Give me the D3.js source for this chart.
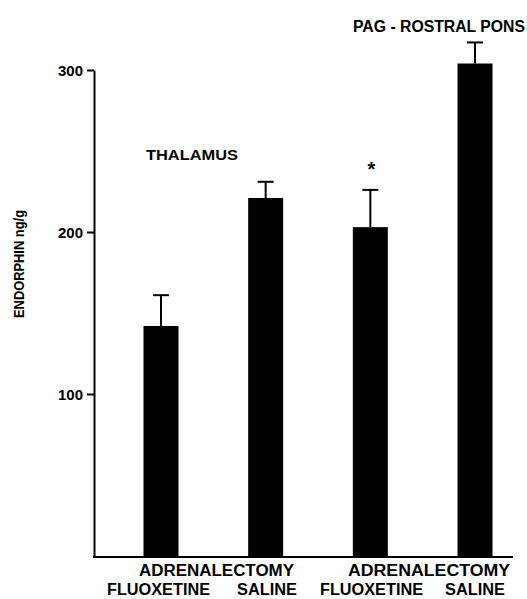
<!DOCTYPE html>
<html>
<head>
<meta charset="utf-8">
<script src="https://cdn.jsdelivr.net/npm/d3@7"></script>
<style>
  html, body { margin: 0; padding: 0; background: #fff; }
  svg text { font-family: "Liberation Sans", Arial, sans-serif; font-weight: bold; fill: #000; }
</style>
</head>
<body>
<svg id="chart" width="527" height="599"></svg>
<script>
const groups = ["thal-flu", "thal-sal", "pag-flu", "pag-sal"];
const endorphin = [142, 221, 203, 304];
const sem = [19, 10, 23, 13];
const yTicks = [100, 200, 300];
const treatmentLabels = ["FLUOXETINE", "SALINE", "FLUOXETINE", "SALINE"];
const regionLabels = ["THALAMUS", "PAG - ROSTRAL PONS"];

const svg = d3.select("#chart");

const y = d3.scaleLinear().domain([0, 300]).range([556, 70]);
const x = d3.scalePoint().domain(groups).range([161, 475]);
const barWidth = 35;
const axisX = 94;

// y axis
const yAxis = d3.axisLeft(y).tickValues(yTicks).tickSize(7).tickSizeOuter(0).tickPadding(4);
const axisG = svg.append("g").attr("transform", `translate(${axisX},0)`).call(yAxis);
axisG.selectAll("path, line").attr("stroke", "#000").attr("stroke-width", 2);
axisG.selectAll("text")
  .style("font-size", "15px")
  .style("font-family", "'Liberation Sans', Arial, sans-serif")
  .style("font-weight", "bold")
  .attr("dy", "0.35em");

// baseline
svg.append("line")
  .attr("x1", axisX - 1).attr("x2", 513)
  .attr("y1", y(0) + 1).attr("y2", y(0) + 1)
  .attr("stroke", "#000").attr("stroke-width", 2);

// bars
svg.selectAll("rect.bar")
  .data(groups)
  .join("rect")
  .attr("class", "bar")
  .attr("x", (d) => x(d) - barWidth / 2)
  .attr("width", barWidth)
  .attr("y", (d, i) => y(endorphin[i]))
  .attr("height", (d, i) => y(0) - y(endorphin[i]))
  .attr("fill", "#000");

// error bars (upper only)
const err = svg.append("g").attr("stroke", "#000").attr("stroke-width", 2);
groups.forEach((g, i) => {
  const top = y(endorphin[i] + sem[i]);
  err.append("line").attr("x1", x(g)).attr("x2", x(g)).attr("y1", y(endorphin[i])).attr("y2", top);
  err.append("line").attr("x1", x(g) - 8).attr("x2", x(g) + 8).attr("y1", top).attr("y2", top);
});

// significance star
svg.append("text")
  .attr("x", x("pag-flu") + 1)
  .attr("y", y(endorphin[2] + sem[2]) - 14)
  .attr("text-anchor", "middle")
  .style("font-size", "20px")
  .text("*");

// region labels
svg.append("text").attr("x", 146).attr("y", 160)
  .attr("textLength", 92).attr("lengthAdjust", "spacingAndGlyphs")
  .style("font-size", "15px").text(regionLabels[0]);
svg.append("text").attr("x", 353).attr("y", 32)
  .attr("textLength", 172).attr("lengthAdjust", "spacingAndGlyphs")
  .style("font-size", "16px").text(regionLabels[1]);

// y label
svg.append("text")
  .attr("transform", "translate(24,264) rotate(-90)")
  .attr("text-anchor", "middle")
  .attr("textLength", 108).attr("lengthAdjust", "spacingAndGlyphs")
  .style("font-size", "14px")
  .text("ENDORPHIN ng/g");

// x labels
const adrenalX = [139, 348];
const adrenalLen = [155, 162];
adrenalX.forEach((ax, i) => {
  svg.append("text")
    .attr("x", ax).attr("y", 576)
    .attr("textLength", adrenalLen[i]).attr("lengthAdjust", "spacingAndGlyphs")
    .style("font-size", "16px")
    .text("ADRENALECTOMY");
});

const treatmentX = [107, 237, 320, 445];
const treatmentLen = [103, 60, 103, 60];
svg.selectAll("text.treat")
  .data(treatmentLabels)
  .join("text")
  .attr("class", "treat")
  .attr("x", (d, i) => treatmentX[i])
  .attr("y", 595)
  .attr("textLength", (d, i) => treatmentLen[i])
  .attr("lengthAdjust", "spacingAndGlyphs")
  .style("font-size", "16px")
  .text((d) => d);
</script>
</body>
</html>
